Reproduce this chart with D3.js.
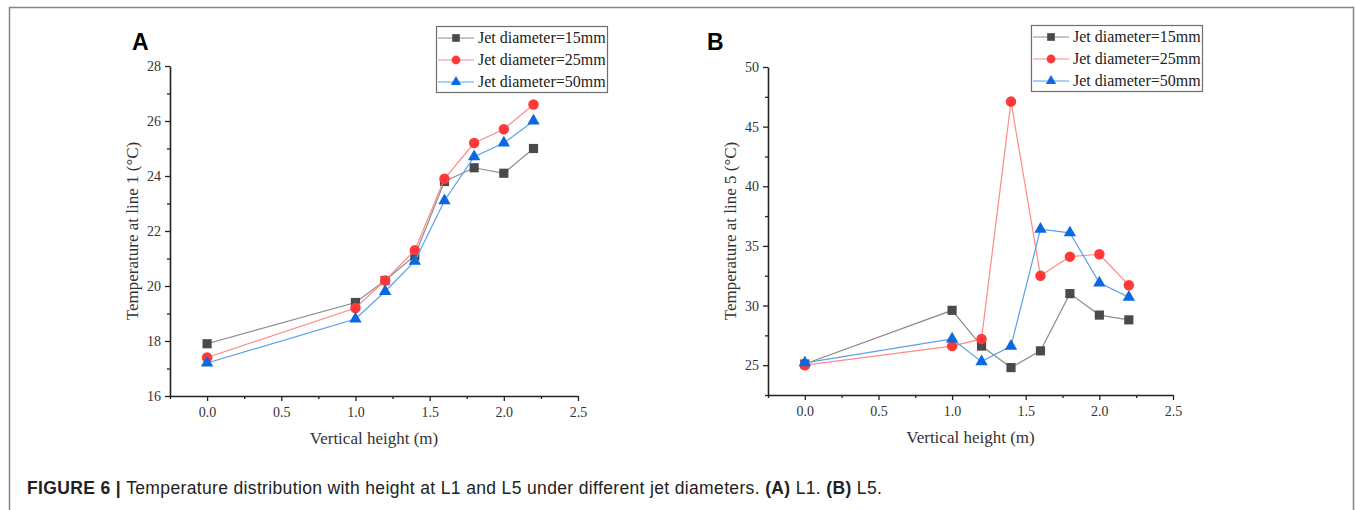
<!DOCTYPE html>
<html>
<head>
<meta charset="utf-8">
<script src="https://cdn.jsdelivr.net/npm/d3@7"></script>
<style>
  body { margin: 0; background: #fff; }
  svg { display: block; }
</style>
</head>
<body>
<div id="fig"></div>
<script>
// data
var heights = [0, 1.0, 1.2, 1.4, 1.6, 1.8, 2.0, 2.2];
var seriesNames = ['Jet diameter=15mm', 'Jet diameter=25mm', 'Jet diameter=50mm'];

// panel A, line 1
var line1_15 = [17.9, 19.4, 20.2, 21.1, 23.8, 24.3, 24.1, 25.0];
var line1_25 = [17.4, 19.2, 20.2, 21.3, 23.9, 25.2, 25.7, 26.6];
var line1_50 = [17.2, 18.8, 19.8, 20.9, 23.1, 24.7, 25.2, 26.0];

// panel B, line 5
var line5_15 = [25.1, 29.6, 26.6, 24.8, 26.2, 31.0, 29.2, 28.8];
var line5_25 = [25.0, 26.6, 27.2, 47.1, 32.5, 34.1, 34.3, 31.7];
var line5_50 = [25.2, 27.2, 25.3, 26.6, 36.4, 36.1, 31.9, 30.7];

var xTicks = [0, 0.5, 1.0, 1.5, 2.0, 2.5];
var xMinor = [-0.25, 0.25, 0.75, 1.25, 1.75, 2.25];
var yTicksA = [16, 18, 20, 22, 24, 26, 28];
var yMinorA = [17, 19, 21, 23, 25, 27];
var yTicksB = [25, 30, 35, 40, 45, 50];
var yMinorB = [22.5, 27.5, 32.5, 37.5, 42.5, 47.5];

var styles = [
    { marker: d3.symbolSquare, size: 84, fill: '#4a4a4a', line: '#8c8c8c' },
    { marker: d3.symbolCircle, size: 86, fill: '#ff3838', line: '#ff8a8a' },
    { marker: d3.symbolTriangle, size: 66, fill: '#0a68e0', line: '#5a9fec' }
];

var width = 1355, height = 510;
var serif = '"Liberation Serif", "Times New Roman", serif';
var sans = '"Liberation Sans", Arial, sans-serif';

var svg = d3.select('#fig').append('svg')
    .attr('width', width)
    .attr('height', height);

// figure frame
svg.append('rect')
    .attr('x', 9.5).attr('y', 7.5)
    .attr('width', 1344).attr('height', 540)
    .attr('fill', 'none')
    .attr('stroke', '#858585')
    .attr('stroke-width', 1.5);

function drawPanel(opts) {
    var x = d3.scaleLinear().domain([-0.25, 2.5]).range([opts.left, opts.right]);
    var y = d3.scaleLinear().domain(opts.yDomain).range([opts.bottom, opts.top]);
    var g = svg.append('g');

    // minor ticks first
    g.append('g')
        .attr('transform', 'translate(0,' + opts.bottom + ')')
        .call(d3.axisBottom(x).tickValues(xMinor).tickSize(3).tickFormat(''))
        .call(function(a) { a.select('.domain').remove(); });
    g.append('g')
        .attr('transform', 'translate(' + opts.left + ',0)')
        .call(d3.axisLeft(y).tickValues(opts.yMinor).tickSize(3).tickFormat(''))
        .call(function(a) { a.select('.domain').remove(); });

    g.append('g')
        .attr('transform', 'translate(0,' + opts.bottom + ')')
        .call(d3.axisBottom(x).tickValues(xTicks).tickSize(5).tickSizeOuter(0)
            .tickPadding(6).tickFormat(d3.format('.1f')));
    g.append('g')
        .attr('transform', 'translate(' + opts.left + ',0)')
        .call(d3.axisLeft(y).tickValues(opts.yTicks).tickSize(5).tickSizeOuter(0)
            .tickPadding(4).tickFormat(d3.format('d')));

    g.selectAll('.tick line').attr('stroke', '#222').attr('stroke-width', 1.3);
    g.selectAll('.domain').attr('stroke', '#222').attr('stroke-width', 1.6);
    g.selectAll('.tick text')
        .style('font-family', serif)
        .style('font-size', '14px')
        .attr('fill', '#333');

    // axis titles
    g.append('text')
        .attr('x', (opts.left + opts.right) / 2)
        .attr('y', opts.bottom + 48)
        .attr('text-anchor', 'middle')
        .style('font-family', serif)
        .style('font-size', '17px')
        .attr('fill', '#333')
        .text('Vertical height (m)');

    g.append('text')
        .attr('transform', 'translate(' + (opts.left - 32) + ',' + ((opts.top + opts.bottom) / 2) + ') rotate(-90)')
        .attr('text-anchor', 'middle')
        .style('font-family', serif)
        .style('font-size', '17px')
        .attr('fill', '#333')
        .text(opts.yTitle);

    // panel letter
    g.append('text')
        .attr('x', opts.letterX)
        .attr('y', 50)
        .style('font-family', sans)
        .style('font-weight', 'bold')
        .style('font-size', '23px')
        .attr('fill', '#000')
        .text(opts.letter);

    // series
    var line = d3.line()
        .x(function(d) { return x(d.h); })
        .y(function(d) { return y(d.v); });

    opts.series.forEach(function(vals, i) {
        var pts = heights.map(function(h, j) { return { h: h, v: vals[j] }; });
        var st = styles[i];
        g.append('path')
            .datum(pts)
            .attr('d', line)
            .attr('fill', 'none')
            .attr('stroke', st.line)
            .attr('stroke-width', 1.2);
        g.selectAll('.pt' + i)
            .data(pts)
            .enter().append('path')
            .attr('class', 'pt' + i)
            .attr('transform', function(d) { return 'translate(' + x(d.h) + ',' + y(d.v) + ')'; })
            .attr('d', d3.symbol().type(st.marker).size(st.size))
            .attr('fill', st.fill);
    });

    // legend
    var lg = g.append('g').attr('transform', 'translate(' + opts.legendX + ',' + opts.legendY + ')');
    lg.append('rect')
        .attr('x', 0.5).attr('y', 0.5)
        .attr('width', 171).attr('height', 66)
        .attr('fill', '#fff')
        .attr('stroke', '#6e6e6e')
        .attr('stroke-width', 1.2);
    seriesNames.forEach(function(name, i) {
        var st = styles[i];
        var cy = 12 + i * 22;
        lg.append('line')
            .attr('x1', 2).attr('x2', 38)
            .attr('y1', cy).attr('y2', cy)
            .attr('stroke', st.line)
            .attr('stroke-width', 1.2);
        lg.append('path')
            .attr('transform', 'translate(20,' + cy + ')')
            .attr('d', d3.symbol().type(st.marker).size(st.size * 0.7))
            .attr('fill', st.fill);
        lg.append('text')
            .attr('x', 42)
            .attr('y', cy + 5)
            .style('font-family', serif)
            .style('font-size', '16px')
            .attr('fill', '#222')
            .text(name);
    });
}

drawPanel({
    left: 170, right: 578, top: 66, bottom: 396,
    yDomain: [16, 28], yTicks: yTicksA, yMinor: yMinorA,
    yTitle: 'Temperature at line 1 (°C)',
    letter: 'A', letterX: 132,
    legendX: 436, legendY: 26,
    series: [line1_15, line1_25, line1_50]
});

drawPanel({
    left: 768, right: 1173, top: 67, bottom: 395,
    yDomain: [22.5, 50], yTicks: yTicksB, yMinor: yMinorB,
    yTitle: 'Temperature at line 5 (°C)',
    letter: 'B', letterX: 707,
    legendX: 1031, legendY: 25,
    series: [line5_15, line5_25, line5_50]
});

// caption
var cap = svg.append('text')
    .attr('x', 27)
    .attr('y', 494)
    .style('font-family', sans)
    .style('font-size', '17.5px')
    .style('letter-spacing', '0.35px')
    .attr('fill', '#222');
cap.append('tspan').style('font-weight', 'bold').text('FIGURE 6 | ');
cap.append('tspan').text('Temperature distribution with height at L1 and L5 under different jet diameters. ');
cap.append('tspan').style('font-weight', 'bold').text('(A)');
cap.append('tspan').text(' L1. ');
cap.append('tspan').style('font-weight', 'bold').text('(B)');
cap.append('tspan').text(' L5.');
</script>
</body>
</html>
